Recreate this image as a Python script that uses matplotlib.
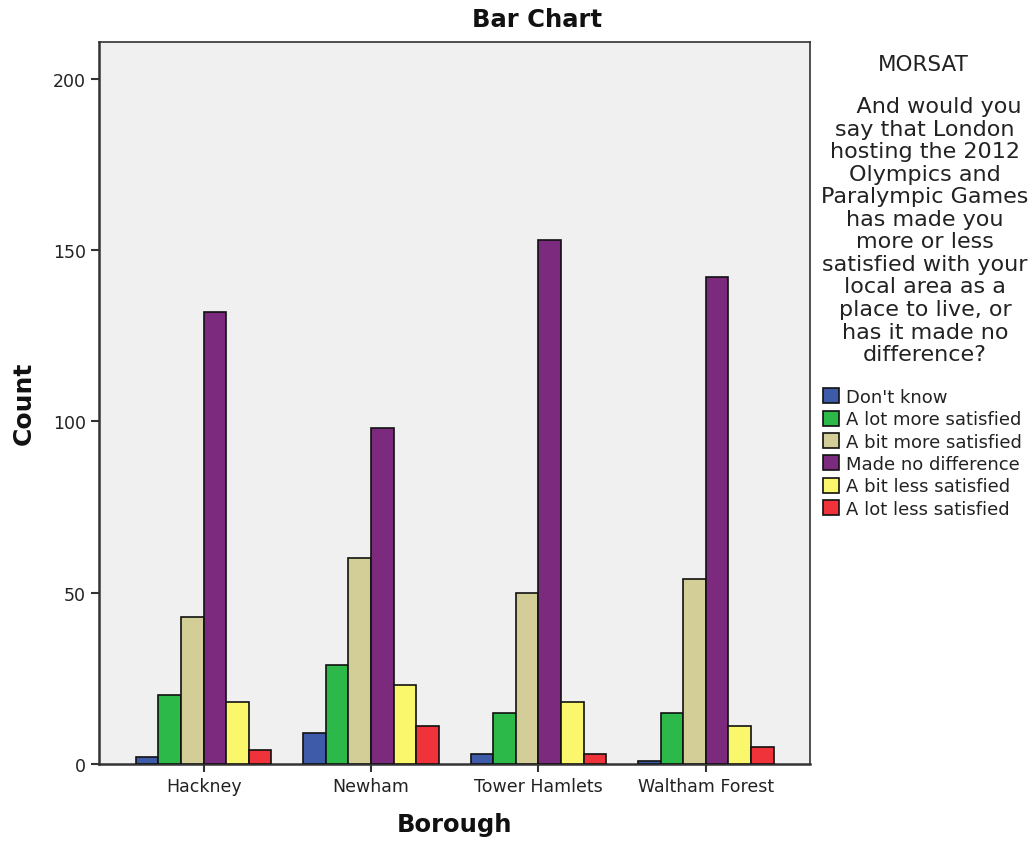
import numpy as np
import matplotlib
matplotlib.use('Agg')
from matplotlib import pyplot as plt

boroughs = ['Hackney', 'Newham', 'Tower Hamlets', 'Waltham Forest']
responses = ["Don't know", 'A lot more satisfied', 'A bit more satisfied',
             'Made no difference', 'A bit less satisfied', 'A lot less satisfied']
dont_know = [2, 9, 3, 1]
lot_more = [20, 29, 15, 15]
bit_more = [43, 60, 50, 54]
no_diff = [132, 98, 153, 142]
bit_less = [18, 23, 18, 11]
lot_less = [4, 11, 3, 5]
counts = [dont_know, lot_more, bit_more, no_diff, bit_less, lot_less]
colors = ['#3E5BAA', '#2DB84A', '#D3CE97', '#7B2A7E', '#FAF76D', '#F0333A']

question = ("    And would you\nsay that London\nhosting the 2012\nOlympics and\n"
            "Paralympic Games\nhas made you\nmore or less\nsatisfied with your\n"
            "local area as a\nplace to live, or\nhas it made no\ndifference?")

txt = '#222222'
fig = plt.figure(figsize=(10.34, 8.45), dpi=100)
ax = fig.add_axes([0.0957, 0.0947, 0.688, 0.855])
ax.set_facecolor('#F0F0F0')

x = np.arange(len(boroughs))
w = 0.135
for i, (vals, c) in enumerate(zip(counts, colors)):
    ax.bar(x + (i - 2.5) * w, vals, w, color=c, edgecolor='#111111',
           linewidth=1.2, label=responses[i], zorder=3)

ax.set_xlim(-0.625, 3.625)
ax.set_ylim(0, 210.8)
ax.set_yticks([0, 50, 100, 150, 200])
ax.set_xticks(x)
ax.set_xticklabels(boroughs)
ax.tick_params(direction='out', length=6, width=1.5, labelsize=12.5,
               colors='#333333', labelcolor=txt)
for s in ax.spines.values():
    s.set_linewidth(1.2)
    s.set_color('#333333')
ax.spines['left'].set_linewidth(1.8)
ax.spines['bottom'].set_linewidth(1.8)

fig.text(537 / 1034, 1 - 20 / 845, 'Bar Chart', ha='center', va='center',
         fontsize=17.5, fontweight='bold', color='#111111')
ax.set_ylabel('Count', fontsize=18, fontweight='bold', labelpad=12, color='#111111')
ax.set_xlabel('Borough', fontsize=17.5, fontweight='bold', labelpad=12, color='#111111')

fig.text(923 / 1034, 1 - 65 / 845, 'MORSAT', ha='center', va='center',
         fontsize=15.5, color=txt)
fig.text(925 / 1034, 1 - 97 / 845, question, ha='center', va='top', fontsize=16,
         linespacing=1.16, multialignment='center', color=txt)

leg = ax.legend(loc='upper left', bbox_to_anchor=(823 / 1034, 1 - 389 / 845),
                bbox_transform=fig.transFigure, frameon=False, fontsize=13,
                handlelength=0.9, handleheight=0.9, handletextpad=0.35,
                labelspacing=0.24, borderaxespad=0, borderpad=0)
for t in leg.get_texts():
    t.set_color(txt)

plt.savefig('out.png', dpi=100)
